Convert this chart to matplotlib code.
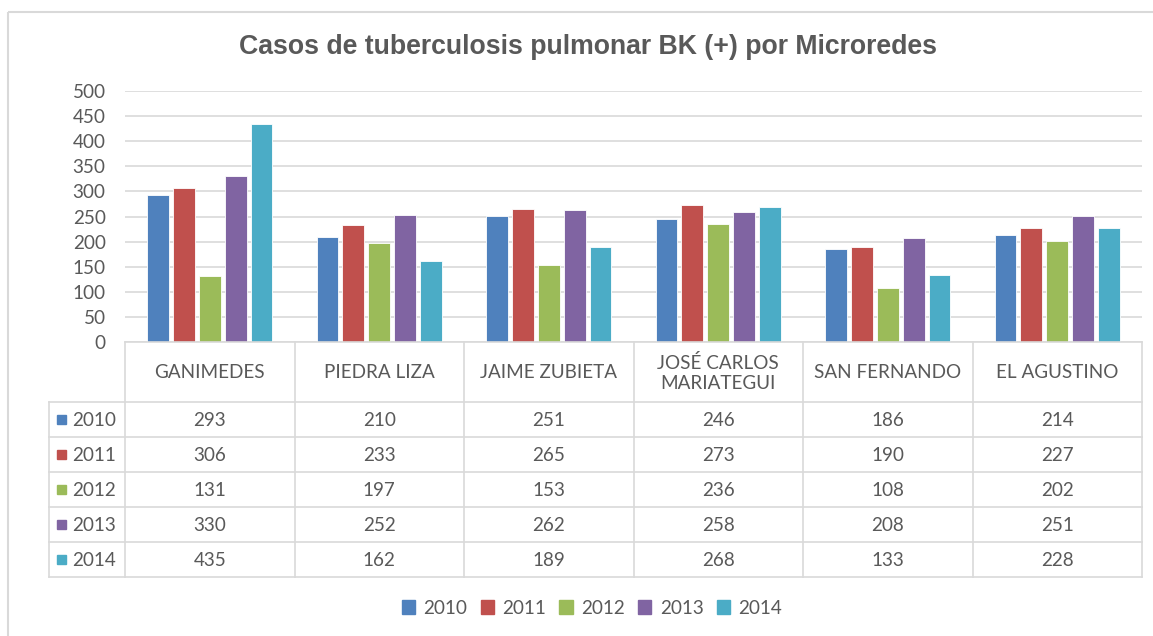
import matplotlib
matplotlib.use("Agg")
import matplotlib.pyplot as plt
import numpy as np
from matplotlib.patches import Rectangle
from matplotlib.lines import Line2D
from matplotlib.transforms import blended_transform_factory

# ---------------- data ----------------
categories = ["GANIMEDES", "PIEDRA LIZA", "JAIME ZUBIETA",
              "JOSÉ CARLOS\nMARIATEGUI", "SAN FERNANDO", "EL AGUSTINO"]
years = ["2010", "2011", "2012", "2013", "2014"]
v2010 = [293, 210, 251, 246, 186, 214]
v2011 = [306, 233, 265, 273, 190, 227]
v2012 = [131, 197, 153, 236, 108, 202]
v2013 = [330, 252, 262, 258, 208, 251]
v2014 = [435, 162, 189, 268, 133, 228]
series = [v2010, v2011, v2012, v2013, v2014]
colors = ["#4F81BD", "#C0504D", "#9BBB59", "#8064A2", "#4BACC6"]
yticks = [0, 50, 100, 150, 200, 250, 300, 350, 400, 450, 500]
title = "Casos de tuberculosis pulmonar BK (+) por Microredes"

# ---------------- layout ----------------
W, H = 1153, 636
TXT = "#595959"
GRID = "#D9D9D9"
FS = 13.6
plt.rcParams['font.family'] = ['Lato', 'DejaVu Sans']

fig = plt.figure(figsize=(W / 100, H / 100), dpi=100)

def fx(px):
    return px / W

def fy(py):
    return 1 - py / H

L, R, T, B = 125, 1142, 91, 342
ax = fig.add_axes([fx(L), fy(B), (R - L) / W, (B - T) / H])
x = np.arange(len(categories))
step = 0.153
width = 0.128
for k, (vals, c) in enumerate(zip(series, colors)):
    ax.bar(x + (k - 2) * step, vals, width, color=c, edgecolor="white",
           linewidth=0.6, zorder=3)
ax.set_xlim(-0.5, len(categories) - 0.5)
ax.set_ylim(0, 500)
ax.set_yticks(yticks)
ax.set_yticklabels([str(t) for t in yticks], fontsize=FS, color=TXT)
ax.tick_params(axis='y', length=0, pad=14)
ax.set_xticks([])
ax.yaxis.grid(True, color=GRID, linewidth=1.2, zorder=0)
for s in ax.spines.values():
    s.set_visible(False)

# overlay in pixel coordinates
ov = fig.add_axes([0, 0, 1, 1])
ov.set_xlim(0, W)
ov.set_ylim(H, 0)
ov.axis('off')
ov.patch.set_visible(False)

# outer border
ov.add_patch(Rectangle((8, 12), W + 20, H + 20, fill=False,
                       edgecolor=GRID, linewidth=1.5))

# title
ov.text(588, 47, title, ha='center', va='center', fontsize=19.2,
        fontweight='bold', color=TXT, family=['Liberation Sans', 'DejaVu Sans'])

# table
bt = blended_transform_factory(ax.transData, ov.transData)
hdr_top, hdr_bot = 342, 402
row_h = 35
n_rows = len(years)
tab_bot = hdr_bot + n_rows * row_h
lw = 1.2
ov.add_line(Line2D([L, R], [hdr_top, hdr_top], color=GRID, lw=lw))
for r in range(n_rows + 1):
    yy = hdr_bot + r * row_h
    ov.add_line(Line2D([49, R], [yy, yy], color=GRID, lw=lw))
ov.add_line(Line2D([49, 49], [hdr_bot, tab_bot], color=GRID, lw=lw))
for i in range(len(categories) + 1):
    ov.add_line(Line2D([i - 0.5, i - 0.5], [hdr_top, tab_bot], color=GRID,
                       lw=lw, transform=bt))
for i, cat in enumerate(categories):
    ov.text(i, (hdr_top + hdr_bot) / 2 + 1, cat, transform=bt, ha='center',
            va='center', fontsize=FS, color=TXT, linespacing=1.2)
for r, (yr, vals, c) in enumerate(zip(years, series, colors)):
    yc = hdr_bot + r * row_h + row_h / 2
    ov.add_patch(Rectangle((57, yc - 4.5), 9, 9, color=c))
    ov.text(72, yc + 1, yr, ha='left', va='center', fontsize=FS, color=TXT)
    for i, v in enumerate(vals):
        ov.text(i, yc + 1, str(v), transform=bt, ha='center', va='center',
                fontsize=FS, color=TXT)

# legend
handles = [Rectangle((0, 0), 1, 1, color=c) for c in colors]
fig.legend(handles, years, loc='center', bbox_to_anchor=(fx(592), fy(608)),
           ncol=5, frameon=False, fontsize=FS, labelcolor=TXT,
           handlelength=0.7, handleheight=0.7, handletextpad=0.45,
           columnspacing=0.7)

fig.savefig("out.png", dpi=100, facecolor="white")
